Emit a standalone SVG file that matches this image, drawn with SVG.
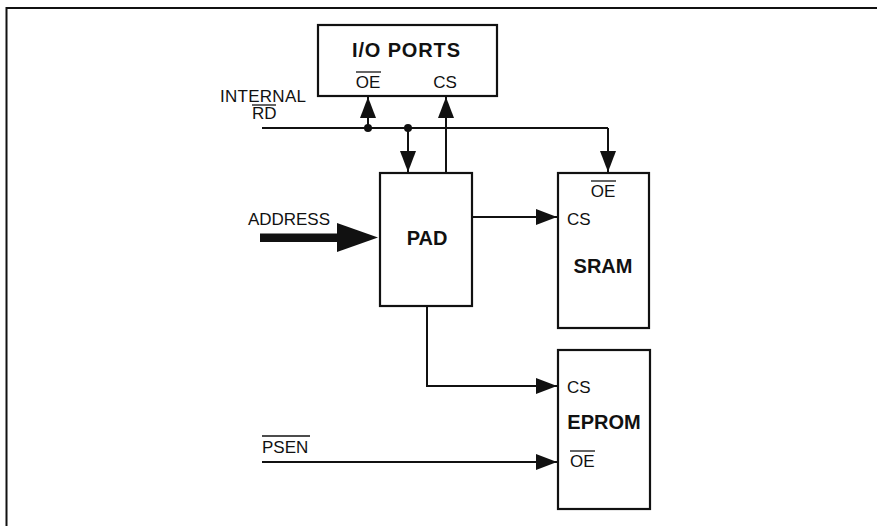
<svg xmlns="http://www.w3.org/2000/svg" width="877" height="526" viewBox="0 0 877 526">
<defs>
<marker id="ah" markerWidth="21" markerHeight="16" refX="21" refY="8" orient="auto" markerUnits="userSpaceOnUse">
<path d="M0,0 L21,8 L0,16 Z" fill="#111"/>
</marker>
<style>
.box{fill:#fff;stroke:#111;stroke-width:2.2}
.ln{fill:none;stroke:#111;stroke-width:2}
.t{font-family:"Liberation Sans",Arial,sans-serif;font-size:17px;fill:#111}
.b{font-family:"Liberation Sans",Arial,sans-serif;font-size:20px;font-weight:bold;fill:#111}
.ol{stroke:#111;stroke-width:1.3}
</style>
</defs>
<rect width="877" height="526" fill="#fff"/>
<g id="frame">
<path d="M6.5,526 L6.5,8 L877,8" class="ln" stroke-width="1.6"/>
</g>
<g id="connectors">
<line x1="262" y1="128" x2="608" y2="128" class="ln"/>
<line x1="608" y1="128" x2="608" y2="172" class="ln" marker-end="url(#ah)"/>
<circle cx="368" cy="128" r="4" fill="#111"/>
<circle cx="408" cy="128" r="4" fill="#111"/>
<line x1="368" y1="128" x2="368" y2="97" class="ln" marker-end="url(#ah)"/>
<line x1="408" y1="128" x2="408" y2="172" class="ln" marker-end="url(#ah)"/>
<line x1="446" y1="173" x2="446" y2="97" class="ln" marker-end="url(#ah)"/>
<line x1="472" y1="217" x2="557" y2="217" class="ln" marker-end="url(#ah)"/>
<path d="M427,306 L427,386 L557,386" class="ln" marker-end="url(#ah)"/>
<line x1="262" y1="462" x2="557" y2="462" class="ln" marker-end="url(#ah)"/>
<rect x="260" y="233.5" width="80" height="8.5" fill="#111"/>
<path d="M337,223 L378,237.5 L337,252 Z" fill="#111"/>
</g>
<g id="labels">
<text class="t" x="220" y="102" textLength="86">INTERNAL</text>
<text class="t" x="252" y="119">RD</text>
<line x1="252" y1="105" x2="276" y2="105" class="ol"/>
<text class="t" x="248" y="225" textLength="82">ADDRESS</text>
<text class="t" x="262" y="453">PSEN</text>
<line x1="262" y1="436" x2="310" y2="436" class="ol"/>
</g>
<g id="io_ports">
<rect x="318" y="25" width="179" height="71" class="box"/>
<text class="b" x="352" y="57" textLength="108">I/O PORTS</text>
<text class="t" x="368" y="88" text-anchor="middle">OE</text>
<line x1="356" y1="72" x2="381" y2="72" class="ol"/>
<text class="t" x="445" y="88" text-anchor="middle">CS</text>
</g>
<g id="pad">
<rect x="380" y="173" width="92" height="133" class="box"/>
<text class="b" x="427" y="245" text-anchor="middle">PAD</text>
</g>
<g id="sram">
<rect x="558" y="173" width="91" height="155" class="box"/>
<text class="t" x="603" y="197" text-anchor="middle">OE</text>
<line x1="591" y1="181" x2="616" y2="181" class="ol"/>
<text class="t" x="567" y="225">CS</text>
<text class="b" x="603" y="273" text-anchor="middle">SRAM</text>
</g>
<g id="eprom">
<rect x="558" y="350" width="92" height="159" class="box"/>
<text class="t" x="567" y="393">CS</text>
<text class="b" x="604" y="429" text-anchor="middle">EPROM</text>
<text class="t" x="570" y="467">OE</text>
<line x1="570" y1="451" x2="595" y2="451" class="ol"/>
</g>
</svg>
